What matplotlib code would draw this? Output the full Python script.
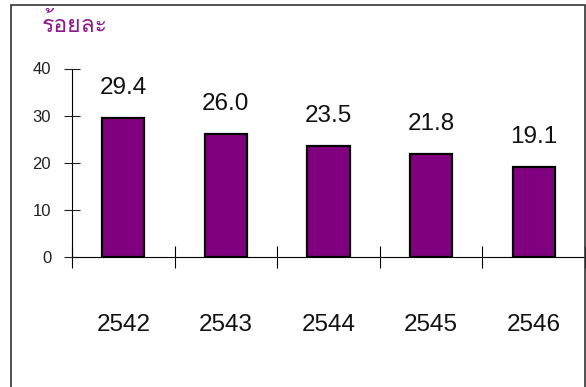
import matplotlib
matplotlib.use('Agg')
import matplotlib.pyplot as plt
from matplotlib import font_manager
from matplotlib.ft2font import FT2Font
from matplotlib.patches import Rectangle
import numpy as np

years = ['2542', '2543', '2544', '2545', '2546']
values = [29.4, 26.0, 23.5, 21.8, 19.1]
y_label = 'ร้อยละ'

def thai_font():
    # look for an installed font that actually has Thai glyphs
    for f in font_manager.fontManager.ttflist:
        try:
            ft = FT2Font(f.fname)
            if ft.get_char_index(ord('ร')) and ft.get_char_index(ord('ะ')):
                return f.name
        except Exception:
            pass
    return 'DejaVu Sans'

plt.rcParams['font.family'] = ['Liberation Sans', 'DejaVu Sans']
thai = thai_font()

fig = plt.figure(figsize=(5.86, 3.87), dpi=100)
ax = fig.add_axes([72/586, 130/387, 513/586, 188.5/387])

x = np.arange(len(years))
bars = ax.bar(x, values, width=0.41, color='#800080', edgecolor='black', linewidth=1.6)

for xi, v in zip(x, values):
    ax.text(xi, v + 6.4, '%.1f' % v, ha='center', va='center', fontsize=17.5, color='#111111')

ax.set_xlim(-0.5, len(years) - 0.5)
ax.set_ylim(0, 40)
ax.set_yticks([0, 10, 20, 30, 40])
ax.tick_params(axis='y', direction='inout', length=12, width=0.8, labelsize=12, pad=9, colors='#222222')

# ticks at category borders, labels at category centres far below
ax.set_xticks(np.arange(len(years) + 1) - 0.5)
ax.set_xticklabels([])
ax.tick_params(axis='x', which='major', direction='inout', length=16, width=0.8)
ax.set_xticks(x, years, minor=True)
ax.tick_params(axis='x', which='minor', length=0, pad=41, labelsize=17.5, labelcolor='#111111')

ax.spines['top'].set_visible(False)
ax.spines['right'].set_visible(False)
ax.spines['left'].set_linewidth(0.8)
ax.spines['bottom'].set_linewidth(0.8)

fig.text(42/586, 1 - 25/387, y_label, fontsize=16.5, color='#8B1A8B', family=[thai, 'DejaVu Sans'],
         va='center', ha='left')

fig.patches.append(Rectangle((11/586, -0.05), 574/586, 1.05 - 5/387, transform=fig.transFigure,
                             fill=False, edgecolor='#333333', linewidth=1.2))

fig.savefig('out.png', dpi=100)
